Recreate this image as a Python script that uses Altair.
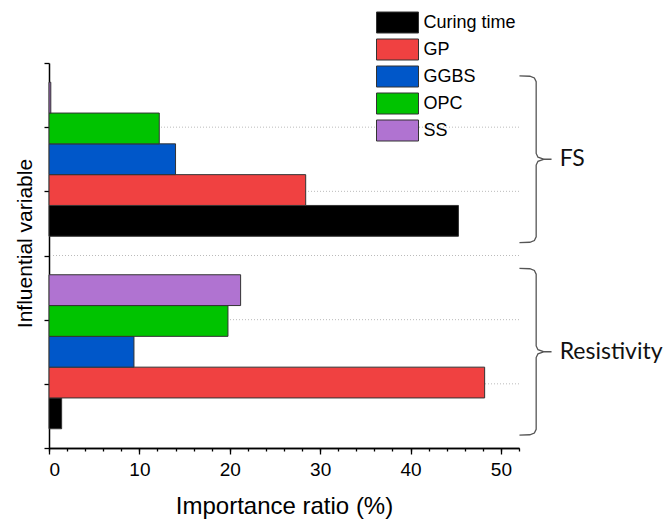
import altair as alt
import pandas as pd

# Importance ratio (%) of each influential variable for the two targets
variables = ["Curing time", "GP", "GGBS", "OPC", "SS"]
colors = ["#000000", "#F04141", "#0057C9", "#00C300", "#B073D1"]
groups = ["FS", "Resistivity"]
group_centers = [4.5, 1.5]
fs_values = [45.3, 28.4, 14.0, 12.2, 0.2]
resistivity_values = [1.4, 48.2, 9.4, 19.8, 21.2]

x_major = [0, 10, 20, 30, 40, 50]
x_minor = list(range(0, 53, 2))
y_ticks = [0, 1, 2, 3, 4, 5, 6]
grid_levels = [1, 2, 3, 4, 5]

BAR_H = 0.48  # height of one bar in y units
FONT = "Liberation Sans"

rows = []
for g, c, vals in zip(groups, group_centers, [fs_values, resistivity_values]):
    start = c - BAR_H * len(variables) / 2
    for i, (var, val) in enumerate(zip(variables, vals)):
        rows.append({"group": g, "variable": var, "value": val, "base": 0,
                     "y0": start + i * BAR_H, "y1": start + (i + 1) * BAR_H})
bars_df = pd.DataFrame(rows)

# right-facing curly brace, y given as a fraction of its half height
brace_shape = [(52.05, 1.0), (53.2, 0.995), (53.7, 0.975), (53.9, 0.93),
               (53.9, 0.07), (54.1, 0.025), (54.8, 0.0), (55.6, 0.0),
               (54.8, 0.0), (54.1, -0.025), (53.9, -0.07), (53.9, -0.93),
               (53.7, -0.975), (53.2, -0.995), (52.05, -1.0)]
BRACE_HALF = 1.3
brace_rows = []
for g, c in zip(groups, group_centers):
    for k, (bx, by) in enumerate(brace_shape):
        brace_rows.append({"group": g, "k": k, "x": bx, "y": c + by * BRACE_HALF})
brace_df = pd.DataFrame(brace_rows)
label_df = pd.DataFrame({"group": groups, "x": [56.5, 56.5], "y": group_centers})
grid_df = pd.DataFrame({"level": grid_levels})

x_scale = alt.Scale(domain=[0, 52], nice=False, zero=False)
y_scale = alt.Scale(domain=[0, 6], nice=False, zero=False)

grid = alt.Chart(grid_df).mark_rule(
    color="#bbbbbb", strokeDash=[1, 2], strokeWidth=1
).encode(y=alt.Y("level:Q", scale=y_scale, axis=None))

bars = alt.Chart(bars_df).mark_rect(stroke="#333333", strokeWidth=1).encode(
    x=alt.X("base:Q", scale=x_scale,
            axis=alt.Axis(values=x_major, title="Importance ratio (%)", orient="bottom",
                          domain=True, tickSize=6, labelPadding=6, titlePadding=15,
                          grid=False, labelFontSize=19, titleFontSize=24)),
    x2="value:Q",
    y=alt.Y("y0:Q", scale=y_scale,
            axis=alt.Axis(values=y_ticks, labels=False, tickSize=5, grid=False,
                          domain=True, orient="left",
                          title="Influential variable", titlePadding=8, titleY=180,
                          titleFontSize=21)),
    y2="y1:Q",
    color=alt.Color("variable:N", sort=variables,
                    scale=alt.Scale(domain=variables, range=colors),
                    legend=alt.Legend(title=None, orient="none", legendX=337.5, legendY=-51.5,
                                      symbolType="M-2,-1H2V1H-2Z", symbolSize=441,
                                      symbolStrokeColor="#333333", symbolStrokeWidth=1,
                                      symbolOpacity=1, labelFont=FONT, labelFontSize=18,
                                      labelColor="#000000", labelOffset=15, rowPadding=1,
                                      padding=0)),
)

braces = alt.Chart(brace_df).mark_line(
    color="#555555", strokeWidth=1.3, clip=False
).encode(
    x=alt.X("x:Q", scale=x_scale,
            axis=alt.Axis(values=x_minor, labels=False, tickSize=3, domain=True,
                          title=None, grid=False, orient="bottom")),
    y=alt.Y("y:Q", scale=y_scale, axis=None),
    detail="group:N",
    order="k:Q",
)

labels = alt.Chart(label_df).mark_text(
    align="left", baseline="middle", font="Lato", fontSize=23, color="#111111", clip=False
).encode(
    x=alt.X("x:Q", scale=x_scale, axis=None),
    y=alt.Y("y:Q", scale=y_scale, axis=None),
    text="group:N",
)

chart = alt.layer(grid, bars, braces, labels).resolve_axis(
    x="independent", y="independent"
).properties(
    width=470, height=385,
    autosize=alt.AutoSizeParams(type="none"),
    padding={"left": 49, "top": 63, "right": 151, "bottom": 72},
).configure_view(stroke=None).configure_axis(
    labelFont=FONT, titleFont=FONT, labelColor="#000000", titleColor="#000000",
    domainColor="#000000", tickColor="#000000", domainWidth=1.5, tickWidth=1.3,
    titleFontWeight="normal",
)

chart.save("out.html", embed_options={"renderer": "svg", "actions": False})
